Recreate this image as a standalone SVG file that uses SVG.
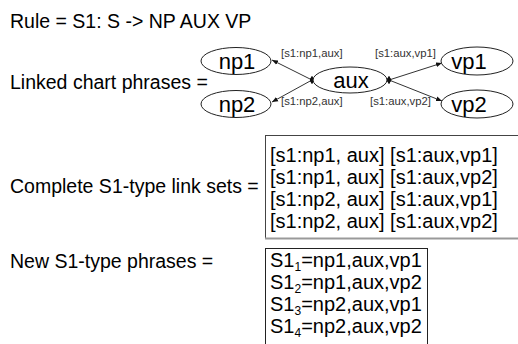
<svg xmlns="http://www.w3.org/2000/svg" width="518" height="344" viewBox="0 0 518 344">
<style>
text{font-family:"Liberation Sans",Arial,sans-serif;fill:#000}
.big{font-size:19.5px}
.node{font-size:22px;text-anchor:middle}
.lbl{font-size:11.3px;fill:#333}
.box{font-size:20px}
.sub{font-size:12px}
ellipse{fill:#fff;stroke:#222;stroke-width:1}
.edge{stroke:#333;stroke-width:1;fill:none}
</style>
<defs>
<marker id="arr" viewBox="0 0 10 10" refX="10" refY="5" markerWidth="6" markerHeight="6" orient="auto" markerUnits="userSpaceOnUse">
<path d="M0,1 L10,5 L0,9 z" fill="#111"/>
</marker>
<marker id="dia" viewBox="0 0 6 10" refX="3" refY="5" markerWidth="5" markerHeight="8" orient="0" markerUnits="userSpaceOnUse">
<path d="M3,0 L6,5 L3,10 L0,5 z" fill="#111"/>
</marker>
</defs>
<rect width="518" height="344" fill="#fff"/>
<text class="big" x="10" y="28">Rule = S1: S -&gt; NP AUX VP</text>
<text class="big" x="10" y="89">Linked chart phrases =</text>
<g id="connectors">
<line class="edge" x1="312" y1="80" x2="272" y2="60" marker-start="url(#dia)" marker-end="url(#arr)"/>
<line class="edge" x1="312" y1="80" x2="272" y2="102" marker-start="url(#dia)" marker-end="url(#arr)"/>
<line class="edge" x1="389" y1="80" x2="442" y2="63" marker-start="url(#dia)" marker-end="url(#arr)"/>
<line class="edge" x1="389" y1="80" x2="442" y2="101" marker-start="url(#dia)" marker-end="url(#arr)"/>
<text class="lbl" x="281" y="57">[s1:np1,aux]</text>
<text class="lbl" x="281" y="105">[s1:np2,aux]</text>
<text class="lbl" x="375" y="57">[s1:aux,vp1]</text>
<text class="lbl" x="370" y="105">[s1:aux,vp2]</text>
</g>
<g id="np1"><ellipse cx="236" cy="61" rx="35" ry="13.5"/><text class="node" x="237" y="69">np1</text></g>
<g id="np2"><ellipse cx="236" cy="104" rx="35" ry="13.5"/><text class="node" x="237" y="112">np2</text></g>
<g id="aux"><ellipse cx="350" cy="80" rx="37" ry="13"/><text class="node" x="351" y="88">aux</text></g>
<g id="vp1"><ellipse cx="477" cy="61" rx="36" ry="14"/><text class="node" x="469" y="69">vp1</text></g>
<g id="vp2"><ellipse cx="477" cy="104" rx="36" ry="14"/><text class="node" x="469" y="112">vp2</text></g>
<text class="big" x="10" y="193">Complete S1-type link sets =</text>
<g id="linksets">
<rect x="265.5" y="135.5" width="260" height="103" fill="#fff" stroke="#444" stroke-width="1"/>
<line x1="265" y1="238.5" x2="518" y2="238.5" stroke="#999" stroke-width="2"/>
<text class="box" x="270" y="162">[s1:np1, aux] [s1:aux,vp1]</text>
<text class="box" x="270" y="184">[s1:np1, aux] [s1:aux,vp2]</text>
<text class="box" x="270" y="206">[s1:np2, aux] [s1:aux,vp1]</text>
<text class="box" x="270" y="228">[s1:np2, aux] [s1:aux,vp2]</text>
</g>
<text class="big" x="10" y="268">New S1-type phrases =</text>
<g id="phrases">
<rect x="265.5" y="248.5" width="162" height="100" fill="#fff" stroke="#222" stroke-width="1"/>
<text class="box" x="270" y="267">S1<tspan class="sub" dy="4">1</tspan><tspan dy="-4">=np1,aux,vp1</tspan></text>
<text class="box" x="270" y="289">S1<tspan class="sub" dy="4">2</tspan><tspan dy="-4">=np1,aux,vp2</tspan></text>
<text class="box" x="270" y="311">S1<tspan class="sub" dy="4">3</tspan><tspan dy="-4">=np2,aux,vp1</tspan></text>
<text class="box" x="270" y="333">S1<tspan class="sub" dy="4">4</tspan><tspan dy="-4">=np2,aux,vp2</tspan></text>
</g>
</svg>
